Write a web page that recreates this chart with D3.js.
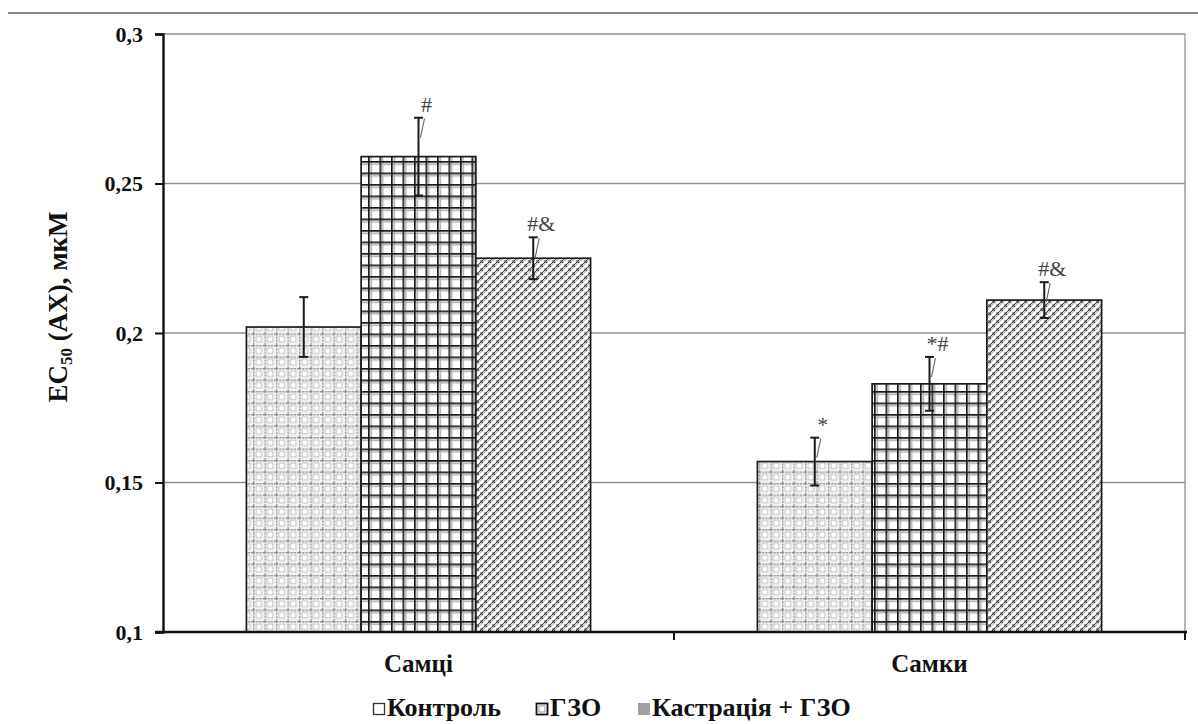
<!DOCTYPE html>
<html>
<head>
<meta charset="utf-8">
<script src="https://cdn.jsdelivr.net/npm/d3@7"></script>
<style>
  html, body { margin: 0; padding: 0; background: #fff; }
  svg { display: block; }
  text { font-family: "Liberation Serif", "Times New Roman", serif; }
</style>
</head>
<body>
<svg id="chart" width="1198" height="724"></svg>
<script>
// Groups on the x axis
const categories = ["Самці", "Самки"];
// Experimental series
const series = ["Контроль", "ГЗО", "Кастрація + ГЗО"];
// Mean EC50 values per series (Самці, Самки), мкМ
const control = [0.202, 0.157];
const gzo = [0.259, 0.183];
const castration = [0.225, 0.211];
// Standard errors per series
const controlErr = [0.010, 0.008];
const gzoErr = [0.013, 0.009];
const castrationErr = [0.007, 0.006];
// Significance marks per series
const controlMarks = ["", "*"];
const gzoMarks = ["#", "*#"];
const castrationMarks = ["#&", "#&"];
// Y axis ticks
const yTicks = [0.1, 0.15, 0.2, 0.25, 0.3];

const values = [control, gzo, castration];
const errors = [controlErr, gzoErr, castrationErr];
const marks = [controlMarks, gzoMarks, castrationMarks];

const rows = [];
categories.forEach((c, ci) => {
  series.forEach((s, si) => {
    rows.push({ cat: c, ser: s, si, v: values[si][ci], e: errors[si][ci], m: marks[si][ci] });
  });
});

const svg = d3.select("#chart");
const L = 163, R = 1185, T = 34, B = 632;
const serif = "Liberation Serif, serif";

const x0 = d3.scaleBand().domain(categories).range([L, R]).paddingInner(0).paddingOuter(0);
const x1 = d3.scaleBand().domain(series).range([0, x0.bandwidth()]).paddingInner(0).paddingOuter(0.727);
const y = d3.scaleLinear().domain([0.1, 0.3]).range([B, T]);

// ---- fill patterns ----
const defs = svg.append("defs");

// light dotted grid
const p0 = defs.append("pattern").attr("id", "pat-control")
  .attr("patternUnits", "userSpaceOnUse").attr("width", 11.5).attr("height", 11.5);
p0.append("rect").attr("width", 11.5).attr("height", 11.5).attr("fill", "#f2f2f2");
p0.append("rect").attr("x", 2.5).attr("y", 2.5).attr("width", 6.5).attr("height", 6.5).attr("fill", "#fff");
p0.append("path").attr("d", "M0,0.7H11.5M0.7,0V11.5")
  .attr("stroke", "#8f8f8f").attr("stroke-width", 1.3).attr("stroke-dasharray", "2,1.2");
p0.append("rect").attr("x", 3).attr("y", 3).attr("width", 5.5).attr("height", 5.5)
  .attr("fill", "none").attr("stroke", "#bdbdbd").attr("stroke-width", 0.9);

// dark square grid
const p1 = defs.append("pattern").attr("id", "pat-gzo")
  .attr("patternUnits", "userSpaceOnUse").attr("width", 11.5).attr("height", 11.5);
p1.append("rect").attr("width", 11.5).attr("height", 11.5).attr("fill", "#fff");
p1.append("path").attr("d", "M0,3.2H11.5M3.2,0V11.5").attr("stroke", "#b0b0b0").attr("stroke-width", 1.6);
p1.append("path").attr("d", "M0,0.8H11.5M0.8,0V11.5").attr("stroke", "#1a1a1a").attr("stroke-width", 1.7);

// diagonal weave
const p2 = defs.append("pattern").attr("id", "pat-cast")
  .attr("patternUnits", "userSpaceOnUse").attr("width", 8).attr("height", 8);
p2.append("rect").attr("width", 8).attr("height", 8).attr("fill", "#cfcfcf");
p2.append("path").attr("d", "M-2,6L6,-2M2,10L10,2")
  .attr("stroke", "#fff").attr("stroke-width", 2.6);
p2.append("path").attr("d", "M-2,9L9,-2M2,13L13,2M-6,5L5,-6")
  .attr("stroke", "#444").attr("stroke-width", 1);
p2.append("path").attr("d", "M0.5,4.5L2.8,6.8M4.5,0.5L6.8,2.8")
  .attr("stroke", "#3a3a3a").attr("stroke-width", 1.3);

const fills = ["url(#pat-control)", "url(#pat-gzo)", "url(#pat-cast)"];

// ---- frame ----
svg.append("line").attr("x1", 8).attr("x2", 1198).attr("y1", 13).attr("y2", 13)
  .attr("stroke", "#8a8a8a").attr("stroke-width", 2);

// gridlines
svg.append("g").selectAll("line").data(yTicks.slice(1)).join("line")
  .attr("x1", L).attr("x2", R).attr("y1", d => y(d)).attr("y2", d => y(d))
  .attr("stroke", "#8f8f8f").attr("stroke-width", 1.3);
// right border
svg.append("line").attr("x1", R).attr("x2", R).attr("y1", T).attr("y2", B)
  .attr("stroke", "#8f8f8f").attr("stroke-width", 1.3);

// ---- bars ----
const bars = svg.append("g");
bars.selectAll("rect").data(rows).join("rect")
  .attr("x", d => x0(d.cat) + x1(d.ser))
  .attr("y", d => y(d.v))
  .attr("width", x1.bandwidth())
  .attr("height", d => y(0.1) - y(d.v))
  .attr("fill", d => fills[d.si])
  .attr("stroke", "#1a1a1a").attr("stroke-width", 1.7);

// ---- error bars ----
const eb = svg.append("g").attr("stroke", "#1a1a1a").attr("stroke-width", 2);
rows.forEach(d => {
  const cx = x0(d.cat) + x1(d.ser) + x1.bandwidth() / 2;
  eb.append("line").attr("x1", cx).attr("x2", cx).attr("y1", y(d.v + d.e)).attr("y2", y(d.v - d.e));
  eb.append("line").attr("x1", cx - 4.5).attr("x2", cx + 4.5).attr("y1", y(d.v + d.e)).attr("y2", y(d.v + d.e));
  eb.append("line").attr("x1", cx - 4.5).attr("x2", cx + 4.5).attr("y1", y(d.v - d.e)).attr("y2", y(d.v - d.e));
});

// ---- significance marks ----
const mg = svg.append("g");
rows.filter(d => d.m).forEach(d => {
  const cx = x0(d.cat) + x1(d.ser) + x1.bandwidth() / 2;
  const top = y(d.v + d.e);
  mg.append("line").attr("x1", cx + 2).attr("y1", top + 20).attr("x2", cx + 6).attr("y2", top + 1)
    .attr("stroke", "#666").attr("stroke-width", 1.1);
  mg.append("text").attr("x", cx + 8).attr("y", top - 6)
    .attr("text-anchor", "middle").attr("font-size", 22).attr("fill", "#444")
    .text(d.m);
});

// ---- axes ----
const yAxis = d3.axisLeft(y).tickValues(yTicks).tickSize(8).tickPadding(12)
  .tickFormat(d => d3.format(".2~f")(d).replace(".", ","));
const gy = svg.append("g").attr("transform", `translate(${L},0)`).call(yAxis);
gy.select(".domain").attr("stroke", "#111").attr("stroke-width", 2.4);
gy.selectAll(".tick line").attr("stroke", "#111").attr("stroke-width", 2);
gy.selectAll(".tick text").attr("font-size", 22).attr("font-weight", "bold")
  .attr("font-family", serif).attr("fill", "#111");

const xAxis = d3.axisBottom(x0).tickSize(0).tickPadding(22);
const gx = svg.append("g").attr("transform", `translate(0,${B})`).call(xAxis);
gx.select(".domain").attr("stroke", "#111").attr("stroke-width", 2.4).attr("d", `M${L - 8},0H${R + 2}`);
gx.selectAll(".tick text").attr("font-size", 25).attr("font-weight", "bold")
  .attr("font-family", serif).attr("fill", "#111");
// separator ticks between groups
gx.append("g").selectAll("line").data(categories).join("line")
  .attr("x1", d => x0(d) + x0.bandwidth()).attr("x2", d => x0(d) + x0.bandwidth())
  .attr("y1", 0).attr("y2", 8).attr("stroke", "#111").attr("stroke-width", 2);

// y axis title
const yt = svg.append("text")
  .attr("transform", "translate(67,307) rotate(-90)")
  .attr("text-anchor", "middle").attr("font-size", 27).attr("font-weight", "bold").attr("fill", "#111");
yt.append("tspan").text("EC");
yt.append("tspan").attr("font-size", 17).attr("dy", 5).text("50");
yt.append("tspan").attr("dy", -5).text(" (AX), мкМ");

// ---- legend ----
const legendX = [373, 536, 638];
const lg = svg.append("g").attr("font-size", 26).attr("font-weight", "bold");
series.forEach((s, i) => {
  const g = lg.append("g").attr("transform", `translate(${legendX[i]},703)`);
  if (i === 0) {
    g.append("rect").attr("x", 0.5).attr("y", 0.5).attr("width", 11).attr("height", 11)
      .attr("fill", "#fff").attr("stroke", "#333").attr("stroke-width", 1.3);
  } else if (i === 1) {
    g.append("rect").attr("x", 0.5).attr("y", 0.5).attr("width", 11).attr("height", 11)
      .attr("fill", "#fff").attr("stroke", "#111").attr("stroke-width", 1.8);
    g.append("rect").attr("x", 3).attr("y", 3).attr("width", 6).attr("height", 6)
      .attr("fill", "none").attr("stroke", "#999").attr("stroke-width", 1);
  } else {
    g.append("rect").attr("x", 0).attr("y", 0).attr("width", 12).attr("height", 12)
      .attr("fill", "#a0a0a0");
  }
  g.append("text").attr("x", 14).attr("y", 13).attr("fill", "#111").text(s);
});
</script>
</body>
</html>
